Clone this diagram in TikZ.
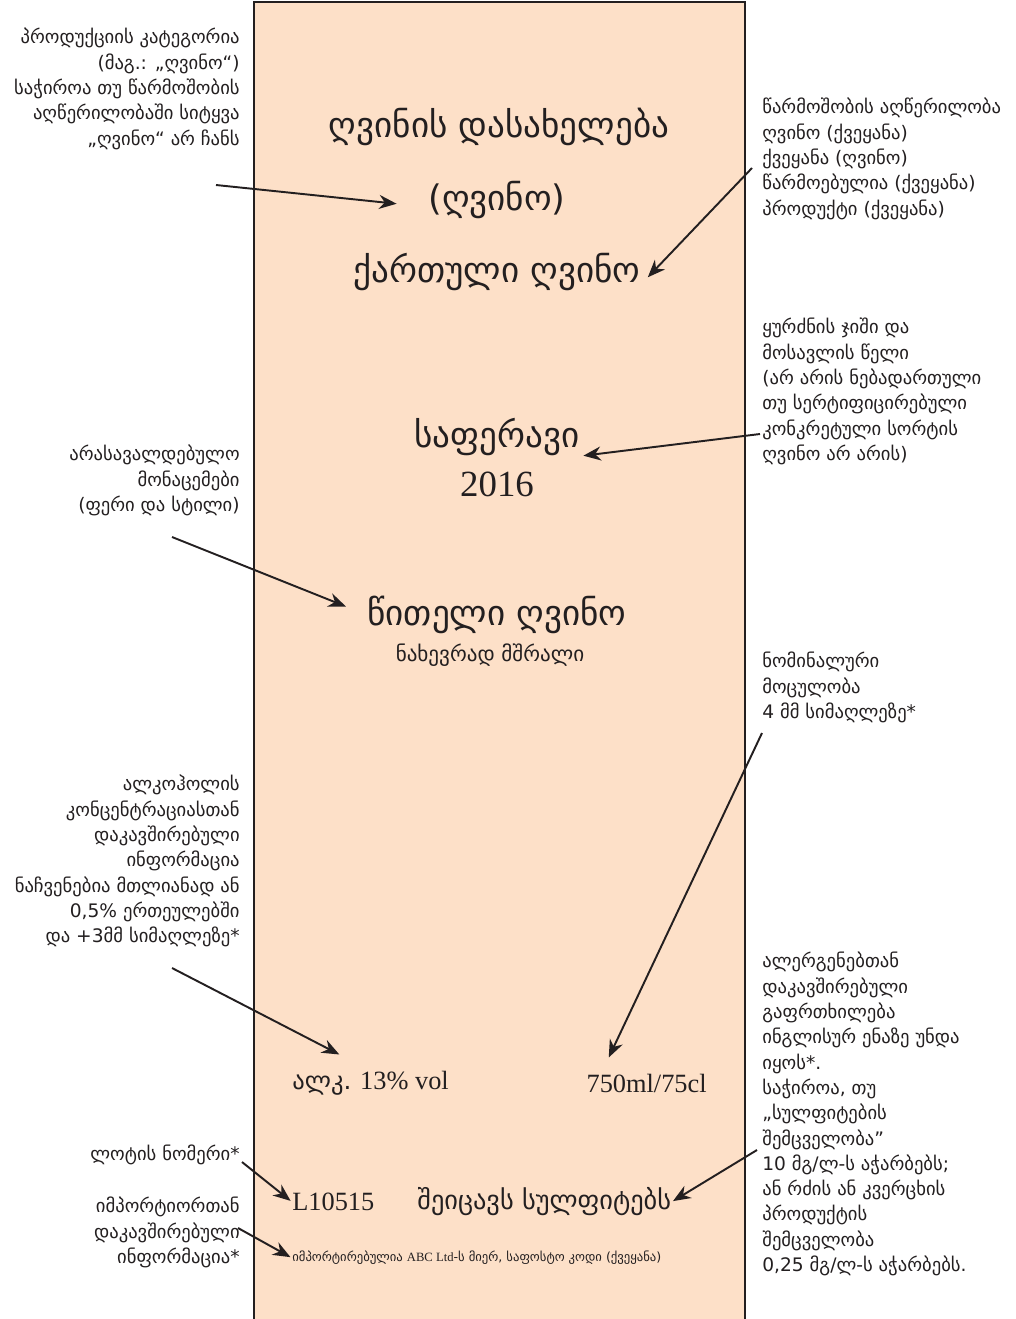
\documentclass[tikz,border=0pt]{standalone}
\usepackage{fontspec}
\setmainfont{DejaVu Sans}
\newfontfamily\latserif{Liberation Serif}
\usetikzlibrary{arrows.meta}
\usetikzlibrary{positioning}
\definecolor{labelpeach}{RGB}{253,224,200}
\definecolor{inkgray}{RGB}{35,31,32}
\tikzset{
	note/.style={inner sep=0pt, font=\fontsize{10.6}{14.4}\selectfont, text=inkgray},
	noteleft/.style={note, align=right, anchor=north east},
	noteright/.style={note, align=left, anchor=north west},
	pointer/.style={-{Stealth[length=10pt,width=8pt]}, line width=1.1pt, draw=inkgray},
	bigtext/.style={inner sep=0pt, font=\fontsize{20}{24}\selectfont, text=inkgray},
	midtext/.style={inner sep=0pt, font=\fontsize{15}{18}\selectfont, text=inkgray},
}

\begin{document}
\begin{tikzpicture}[x=0.02cm, y=-0.02cm]

	\useasboundingbox (0,0) rectangle (1015,1319);
	\draw[fill=labelpeach, draw=inkgray, line width=0.6pt] (254,2) rectangle (745,1340);

	\node[noteleft] (category) at (240,28) {პროდუქციის კატეგორია\\(მაგ.:  „ღვინო“)\\საჭიროა თუ წარმოშობის\\აღწერილობაში სიტყვა\\„ღვინო“ არ ჩანს};
	\node[noteright] (origin) at (762,98) {წარმოშობის აღწერილობა\\ღვინო (ქვეყანა)\\ქვეყანა (ღვინო)\\წარმოებულია (ქვეყანა)\\პროდუქტი (ქვეყანა)};
	\node[noteright] (variety) at (762,318) {ყურძნის ჯიში და\\მოსავლის წელი\\(არ არის ნებადართული\\თუ სერტიფიცირებული\\კონკრეტული სორტის\\ღვინო არ არის)};
	\node[noteleft] (optional) at (240,445) {არასავალდებულო\\მონაცემები\\(ფერი და სტილი)};
	\node[noteright] (volume) at (762,652) {ნომინალური\\მოცულობა\\4 მმ სიმაღლეზე*};
	\node[noteleft] (alcohol) at (240,775) {ალკოჰოლის\\კონცენტრაციასთან\\დაკავშირებული\\ინფორმაცია\\ნაჩვენებია მთლიანად ან\\0,5\% ერთეულებში\\და +3მმ სიმაღლეზე*};
	\node[noteright] (allergen) at (762,952) {ალერგენებთან\\დაკავშირებული\\გაფრთხილება\\ინგლისურ ენაზე უნდა\\იყოს*.\\საჭიროა, თუ\\„სულფიტების\\შემცველობა”\\10 მგ/ლ-ს აჭარბებს;\\ან რძის ან კვერცხის\\პროდუქტის\\შემცველობა\\0,25 მგ/ლ-ს აჭარბებს.};
	\node[noteleft] (lotnote) at (240,1145) {ლოტის ნომერი*};
	\node[noteleft] (importnote) at (240,1197) {იმპორტიორთან\\დაკავშირებული\\ინფორმაცია*};

	\node[bigtext] (winename) at (499,127) {ღვინის დასახელება};
	\node[bigtext] (wineword) at (497,200) {(ღვინო)};
	\node[bigtext] (georgian) at (497,272) {ქართული ღვინო};
	\node[bigtext] (saperavi) at (497,437) {საფერავი};
	\node[inner sep=0pt, font=\latserif\fontsize{21}{24}\selectfont, text=inkgray] (vintage) at (497,484) {2016};
	\node[bigtext] (redwine) at (497,615) {წითელი ღვინო};
	\node[inner sep=0pt, font=\fontsize{12}{14}\selectfont, text=inkgray] (semidry) at (490,655) {ნახევრად მშრალი};
	\node[inner sep=0pt, font=\latserif\fontsize{15}{18}\selectfont, text=inkgray, anchor=west] (abv) at (292,1083) {{\rmfamily\fontsize{14}{17}\selectfont ალკ.} 13\% vol};
	\node[inner sep=0pt, font=\latserif\fontsize{15}{18}\selectfont, text=inkgray, anchor=east] (bottle) at (707,1083) {750ml/75cl};
	\node[inner sep=0pt, font=\latserif\fontsize{15}{18}\selectfont, text=inkgray, anchor=west] (lotcode) at (292,1202) {L10515};
	\node[midtext, anchor=west] (sulphites) at (417,1202) {შეიცავს სულფიტებს};
	\node[inner sep=0pt, font=\fontsize{7.2}{9}\selectfont, text=inkgray, anchor=west] (importer) at (292,1258) {იმპორტირებულია {\latserif ABC Ltd}-ს მიერ, საფოსტო კოდი (ქვეყანა)};

	\coordinate (tail1) at (216,185);
	\coordinate (tail2) at (752,168);
	\coordinate (tail3) at (760,434);
	\coordinate (tail4) at (172,537);
	\coordinate (tail5) at (762,733);
	\coordinate (tail6) at (172,968);
	\coordinate (tail7) at (757,1150);
	\coordinate (tail8) at (242,1162);
	\coordinate (tail9) at (238,1228);

	\draw[pointer, shorten >=18pt] (tail1) -- ([yshift=-4pt]wineword.west);
	\draw[pointer] (tail2) -- ([xshift=4pt, yshift=-3pt]georgian.east);
	\draw[pointer, shorten >=2pt] (tail3) -- (saperavi.south east);
	\draw[pointer, shorten >=13pt] (tail4) -- (redwine.west);
	\draw[pointer, shorten >=10pt] (tail5) -- ([xshift=0.3cm]bottle.north west);
	\draw[pointer, shorten >=20pt] (tail6) -- (abv.north);
	\draw[pointer, shorten >=1pt] (tail7) -- (sulphites.east);
	\draw[pointer, shorten >=1pt] (tail8) -- (lotcode.west);
	\draw[pointer, shorten >=1pt] (tail9) -- (importer.west);

\end{tikzpicture}
\end{document}
